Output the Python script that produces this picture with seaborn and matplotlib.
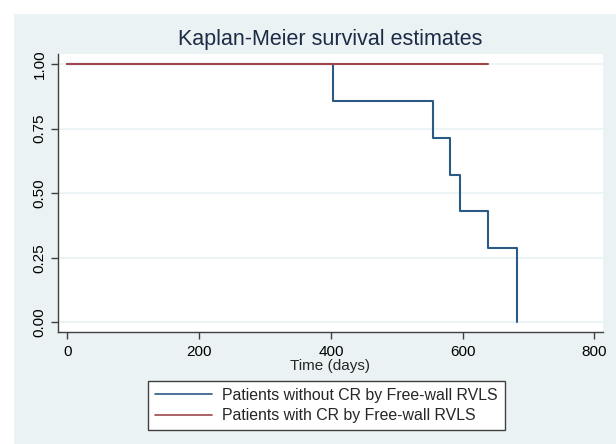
import numpy as np
import pandas as pd
import matplotlib
matplotlib.use("Agg")
import matplotlib.pyplot as plt
import seaborn as sns
from matplotlib.patches import Rectangle
from matplotlib.lines import Line2D

# ---- data ----
group_labels = ["Patients without CR by Free-wall RVLS", "Patients with CR by Free-wall RVLS"]
time_without = [0, 403, 555, 581, 596, 638, 683]
surv_without = [1.0, 0.857, 0.714, 0.571, 0.429, 0.286, 0.0]
time_with = [0, 638]
surv_with = [1.0, 1.0]
x_ticks = [0, 200, 400, 600, 800]
y_ticks = [0.00, 0.25, 0.50, 0.75, 1.00]
title_text = "Kaplan-Meier survival estimates"
x_label = "Time (days)"

df = pd.concat([
    pd.DataFrame({"time": time_without, "surv": surv_without, "group": group_labels[0]}),
    pd.DataFrame({"time": time_with, "surv": surv_with, "group": group_labels[1]}),
], ignore_index=True)

sns.set_style("white")
plt.rcParams["font.family"] = ["Liberation Sans", "DejaVu Sans"]

W, H = 616, 444
fig = plt.figure(figsize=(W / 100, H / 100), dpi=100, facecolor="white")
# outer graph region (light bluish)
fig.patches.append(Rectangle((14 / W, 0), 1 - 14 / W, 1 - 14 / H, transform=fig.transFigure,
                             facecolor="#EAF2F3", edgecolor="none", zorder=-10))

left, right = 57.7 / W, 603 / W
bottom, top = 1 - 332.3 / H, 1 - 54 / H
ax = fig.add_axes([left, bottom, right - left, top - bottom])
ax.set_facecolor("white")

palette = {group_labels[0]: "#2B5A85", group_labels[1]: "#A0464C"}
sns.lineplot(data=df, x="time", y="surv", hue="group", palette=palette,
             estimator=None, sort=False, drawstyle="steps-post", linewidth=1.5,
             ax=ax, legend=False, zorder=3)

ax.set_xlim(-14.7, 813)
ax.set_ylim(-0.039, 1.039)
ax.set_xticks(x_ticks)
ax.set_xticklabels([str(t) for t in x_ticks], fontsize=11)
ax.set_yticks(y_ticks)
ax.set_yticklabels([f"{t:.2f}" for t in y_ticks], fontsize=11, rotation=90, va="center")
for yv in y_ticks:
    ax.axhline(yv, color="#EAF2F3", linewidth=1.2, zorder=1)

for s in ["top", "right"]:
    ax.spines[s].set_visible(False)
for s in ["left", "bottom"]:
    ax.spines[s].set_color("#404040")
    ax.spines[s].set_linewidth(1.0)
ax.tick_params(axis="both", direction="out", length=5, width=1, color="#404040",
               labelcolor="black", pad=3)
ax.tick_params(axis="x", bottom=True, pad=4)
ax.tick_params(axis="y", left=True, pad=3)

ax.set_xlabel(x_label, fontsize=11, labelpad=0)
ax.set_ylabel("")

fig.text(330 / W, 1 - 40 / H, title_text, ha="center", va="center", fontsize=15.5, color="#1E2B47")

handles = [Line2D([], [], color=palette[g], linewidth=1.2) for g in group_labels]
leg = fig.legend(handles, group_labels, loc="center", bbox_to_anchor=(326.5 / W, 1 - 405.5 / H),
                 frameon=True, fancybox=False, edgecolor="#404040", facecolor="white",
                 fontsize=11.4, handlelength=3.6, handletextpad=0.6, labelspacing=0.35,
                 borderpad=0.45, borderaxespad=0)
leg.get_frame().set_linewidth(1.0)
leg.get_frame().set_alpha(1)

fig.savefig("out.png", dpi=100, facecolor="white")
